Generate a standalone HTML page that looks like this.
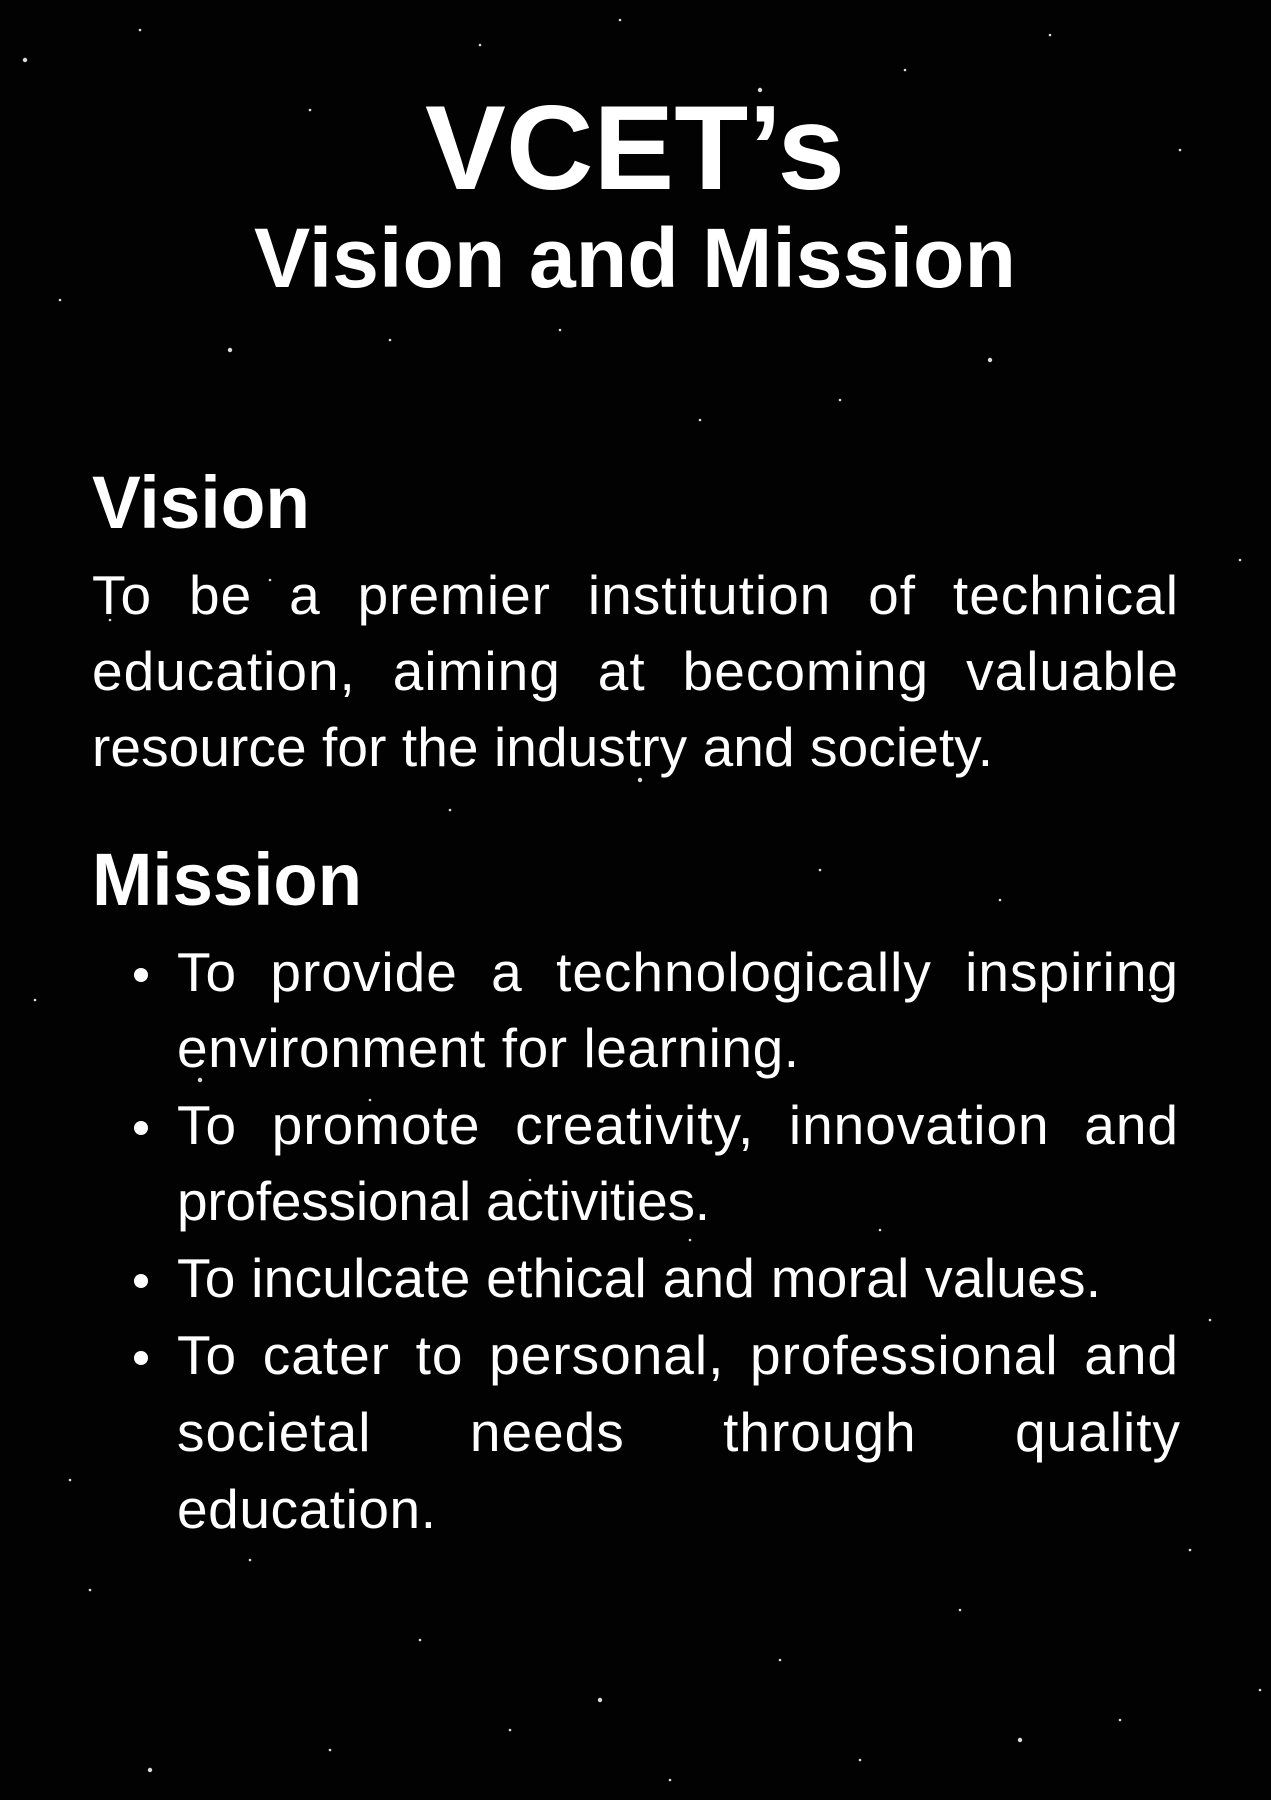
<!DOCTYPE html>
<html><head><meta charset="utf-8"><style>
html,body{margin:0;padding:0;background:#000;}
svg{display:block}
text{fill:#fff;font-family:"Liberation Sans",sans-serif}
.h{font-weight:bold}
.b{font-size:55px;letter-spacing:1px}
</style></head><body>
<svg id="poster" width="1271" height="1800" viewBox="0 0 1271 1800">
<rect width="1271" height="1800" fill="#020202"/>
<g id="stars"></g>
<text class="h" x="635" y="189" font-size="120" text-anchor="middle" textLength="420" lengthAdjust="spacingAndGlyphs">VCET’s</text>
<text class="h" x="635" y="287" font-size="84" text-anchor="middle" textLength="762" lengthAdjust="spacingAndGlyphs">Vision and Mission</text>

<text class="h" x="92" y="528" font-size="74" textLength="218" lengthAdjust="spacingAndGlyphs">Vision</text>
<g>
<text class="b j" x="92" y="614" data-w="1087">To be a premier institution of technical</text>
<text class="b j" x="92" y="690" data-w="1087">education, aiming at becoming valuable</text>
<text class="b" x="92" y="766" textLength="902" lengthAdjust="spacing">resource for the industry and society.</text>
</g>

<text class="h" x="92" y="905" font-size="74" textLength="270" lengthAdjust="spacingAndGlyphs">Mission</text>
<g>
<circle cx="141" cy="975" r="7" fill="#fff"/>
<text class="b j" x="177" y="991" data-w="1002">To provide a technologically inspiring</text>
<text class="b" x="177" y="1067" textLength="623" lengthAdjust="spacing">environment for learning.</text>
<circle cx="141" cy="1128" r="7" fill="#fff"/>
<text class="b j" x="177" y="1144" data-w="1002">To promote creativity, innovation and</text>
<text class="b" x="177" y="1220" textLength="534" lengthAdjust="spacing">professional activities.</text>
<circle cx="141" cy="1281" r="7" fill="#fff"/>
<text class="b" x="177" y="1297" textLength="925" lengthAdjust="spacing">To inculcate ethical and moral values.</text>
<circle cx="141" cy="1358" r="7" fill="#fff"/>
<text class="b j" x="177" y="1374" data-w="1002">To cater to personal, professional and</text>
<text class="b j" x="177" y="1451" data-w="1004">societal needs through quality</text>
<text class="b" x="177" y="1528" textLength="260" lengthAdjust="spacing">education.</text>
</g>
</svg>
<script>
const starX=[25,140,310,480,620,760,905,1050,1180,60,230,390,560,700,840,990,1240,110,270,450,640,820,1000,1150,35,200,370,530,690,880,1040,1210,90,250,420,600,780,960,1120,1260,150,330,510,670,860,1020,1190,70];
const starY=[60,30,110,45,20,90,70,35,150,300,350,340,330,420,400,360,560,620,580,810,780,870,900,990,1000,1080,1100,1180,1240,1230,1290,1320,1590,1560,1640,1700,1660,1610,1720,1690,1770,1750,1730,1780,1760,1740,1550,1480];
const NS='http://www.w3.org/2000/svg';
const g=document.getElementById('stars');
for(let i=0;i<starX.length;i++){
  const c=document.createElementNS(NS,'circle');
  c.setAttribute('cx',starX[i]);c.setAttribute('cy',starY[i]);
  c.setAttribute('r',i%5===0?2.2:1.3);c.setAttribute('fill','#ddd');
  
  
  g.appendChild(c);
}
// word-justify lines
document.querySelectorAll('text.j').forEach(function(t){
  const words=t.textContent.trim().split(/\s+/);
  const x0=parseFloat(t.getAttribute('x'));
  const W=parseFloat(t.getAttribute('data-w'));
  t.textContent='';
  const spans=words.map(function(w){
    const s=document.createElementNS(NS,'tspan');
    s.textContent=w;
    
    
    t.appendChild(s);
    return s;
  });
  const widths=spans.map(function(s){return s.getComputedTextLength();});
  const total=widths.reduce(function(a,b){return a+b;},0);
  const gap=(W-total)/Math.max(1,words.length-1);
  let x=x0;
  spans.forEach(function(s,i){
    s.setAttribute('x',x);
    x+=widths[i]+gap;
  });
});
</script>
</body></html>
